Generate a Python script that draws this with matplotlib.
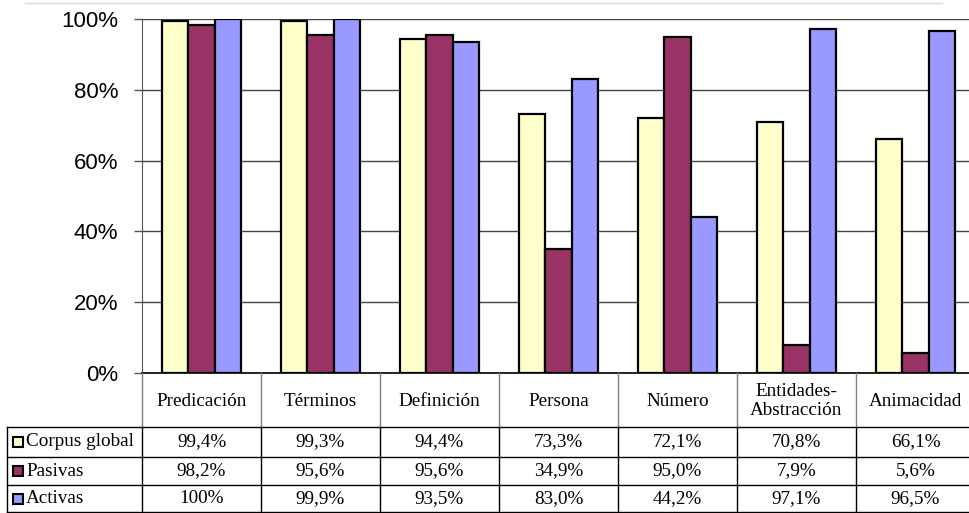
import matplotlib.pyplot as plt
import matplotlib.patches as mpatches
from matplotlib.lines import Line2D
from matplotlib.transforms import blended_transform_factory
import numpy as np

# data
categories = ["Predicación", "Términos", "Definición", "Persona", "Número",
              "Entidades-\nAbstracción", "Animacidad"]
series_names = ["Corpus global", "Pasivas", "Activas"]
corpus_global = [99.4, 99.3, 94.4, 73.3, 72.1, 70.8, 66.1]
pasivas = [98.2, 95.6, 95.6, 34.9, 95.0, 7.9, 5.6]
activas = [100.0, 99.9, 93.5, 83.0, 44.2, 97.1, 96.5]
table_text = [
    ["99,4%", "99,3%", "94,4%", "73,3%", "72,1%", "70,8%", "66,1%"],
    ["98,2%", "95,6%", "95,6%", "34,9%", "95,0%", "7,9%", "5,6%"],
    ["100%", "99,9%", "93,5%", "83,0%", "44,2%", "97,1%", "96,5%"],
]
colors = ["#FFFFCC", "#993366", "#9999FF"]

W, H = 970, 513
fig = plt.figure(figsize=(W / 100, H / 100), dpi=100)
# axes placed in pixel terms (0% at y=373, 100% at y=19)
ax = fig.add_axes([142 / W, 1 - 373 / H, (975 - 142) / W, (373 - 19) / H])

x = np.arange(len(categories))
bw = 0.224
for i, vals in enumerate([corpus_global, pasivas, activas]):
    ax.bar(x + (i - 1) * bw, np.array(vals) / 100, bw, color=colors[i],
           edgecolor="black", linewidth=1.6, zorder=3)

ax.set_xlim(-0.5, len(categories) - 0.5)
ax.set_ylim(0, 1)
ax.set_yticks([0, 0.2, 0.4, 0.6, 0.8, 1.0])
ax.set_yticklabels(["0%", "20%", "40%", "60%", "80%", "100%"],
                   fontfamily="Liberation Sans", fontsize=16)
ax.tick_params(axis="y", length=6, width=1, color="#555555", pad=11)
ax.set_xticks([])
ax.yaxis.grid(True, color="#444444", linewidth=1, zorder=0)
for s in ["top", "right"]:
    ax.spines[s].set_visible(False)
ax.spines["left"].set_color("#555555")
ax.spines["bottom"].set_color("black")
ax.spines["bottom"].set_linewidth(1.2)

# table below the plot: x in data units, y in pixels from top
def ypix(p):
    return 1 - p / H

tr = blended_transform_factory(ax.transData, fig.transFigure)
row_edges = [373, 427, 457, 485, 512]
tfont = dict(fontfamily="Liberation Serif", fontsize=13.8)

# header verticals (gray) and data verticals (black)
for b in np.arange(len(categories) + 1) - 0.5:
    fig.add_artist(Line2D([b, b], [ypix(373), ypix(427)], transform=tr,
                          color="#808080", linewidth=1))
    fig.add_artist(Line2D([b, b], [ypix(427), ypix(512)], transform=tr,
                          color="black", linewidth=1))
# left border of label column
fig.add_artist(Line2D([7 / W, 7 / W], [ypix(427), ypix(512)],
                      transform=fig.transFigure, color="black", linewidth=1))
for r in row_edges[1:]:
    fig.add_artist(Line2D([7 / W, 1], [ypix(r), ypix(r)],
                          transform=fig.transFigure, color="black", linewidth=1))

# header text
for i, c in enumerate(categories):
    fig.text(i, ypix(401), c, transform=tr, ha="center", va="center",
             linespacing=1.15, **tfont)

# data rows
for r, (name, row) in enumerate(zip(series_names, table_text)):
    yc = ypix((row_edges[r + 1] + row_edges[r + 2]) / 2)
    fig.add_artist(mpatches.Rectangle((13 / W, yc - 5 / H), 10 / W, 10 / H,
                                      transform=fig.transFigure,
                                      facecolor=colors[r], edgecolor="black",
                                      linewidth=1.5))
    fig.text(26 / W, yc, name, ha="left", va="center", **tfont)
    for i, t in enumerate(row):
        fig.text(i, yc, t, transform=tr, ha="center", va="center", **tfont)

# faint chart frame line at the very top
fig.add_artist(Line2D([25 / W, 942 / W], [ypix(3), ypix(3)],
                      transform=fig.transFigure, color="#d9d9d9", linewidth=1))

fig.savefig("out.png", dpi=100)
